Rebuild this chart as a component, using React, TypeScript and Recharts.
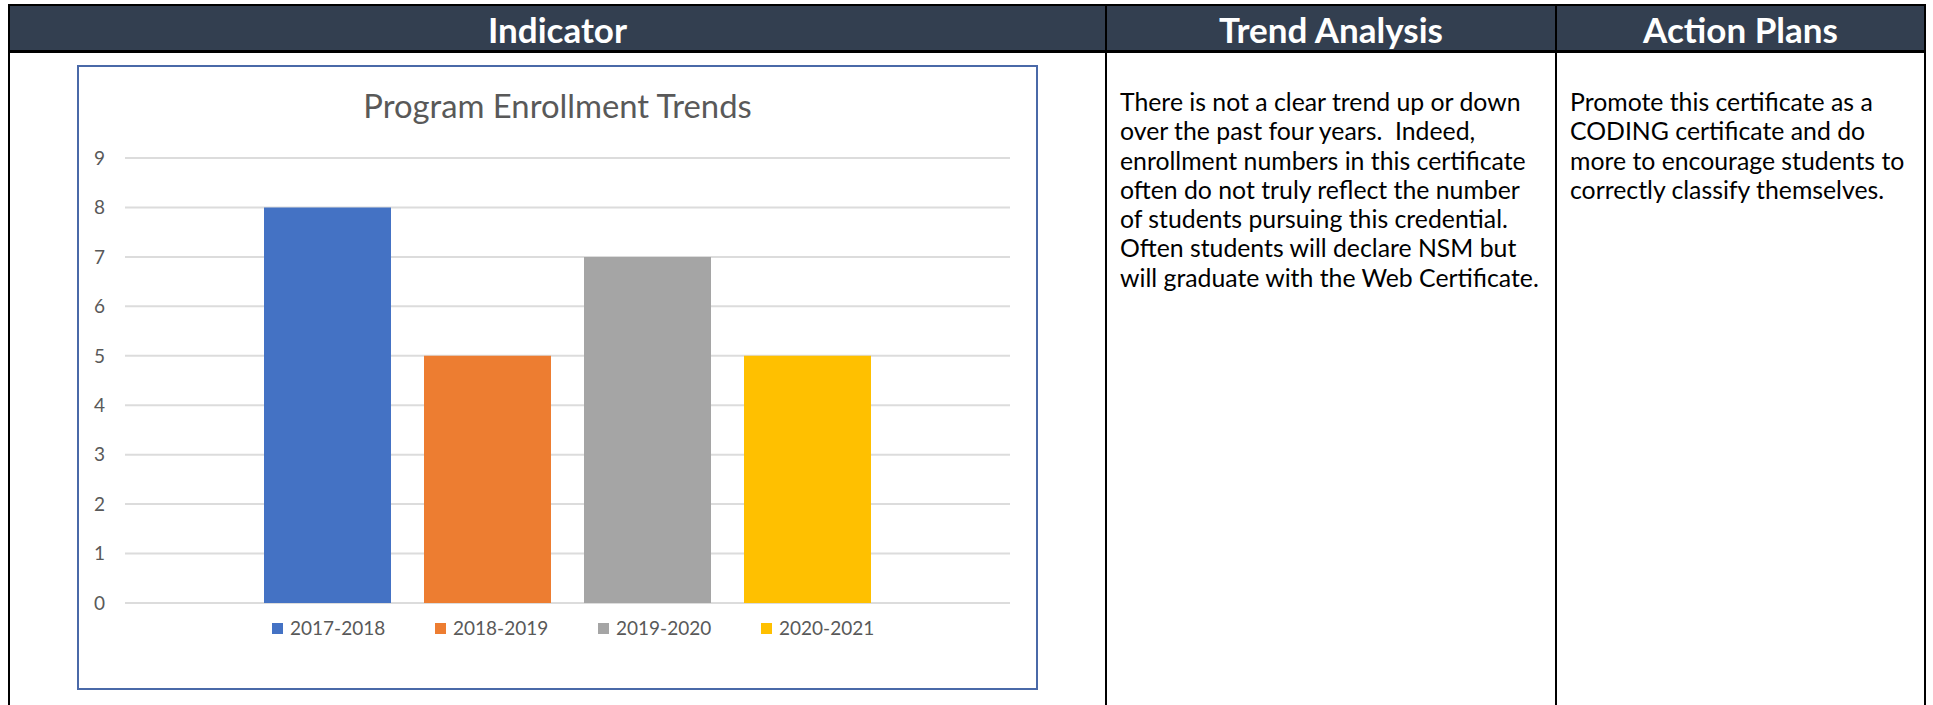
import React from "react";
import { BarChart, Bar, XAxis, YAxis, CartesianGrid, Legend } from "recharts";

const FONT = "Lato, 'Open Sans', sans-serif";

const years = ["2017-2018", "2018-2019", "2019-2020", "2020-2021"];
const enrollment = [8, 5, 7, 5];
const barColors = ["#4472C4", "#ED7D31", "#A5A5A5", "#FFC000"];
const yTicks = [0, 1, 2, 3, 4, 5, 6, 7, 8, 9];

const headers = ["Indicator", "Trend Analysis", "Action Plans"];
const trendLines = [
  "There is not a clear trend up or down",
  "over the past four years.  Indeed,",
  "enrollment numbers in this certificate",
  "often do not truly reflect the number",
  "of students pursuing this credential.",
  "Often students will declare NSM but",
  "will graduate with the Web Certificate.",
];
const actionLines = [
  "Promote this certificate as a",
  "CODING certificate and do",
  "more to encourage students to",
  "correctly classify themselves.",
];

// one category, one bar per school year (Excel-style series)
const chartRow: Record<string, string | number> = { name: "Enrollment" };
years.forEach((y, i) => {
  chartRow[`s${i}`] = enrollment[i];
});
const chartData = [chartRow];

function YearLegend({ payload }: any) {
  return (
    <div
      style={{
        display: "flex",
        fontFamily: FONT,
        fontSize: 19,
        color: "#595959",
        lineHeight: "22px",
      }}
    >
      {(payload || []).map((p: any) => (
        <div key={p.value} style={{ width: 163, display: "flex", alignItems: "center" }}>
          <span
            style={{ display: "inline-block", width: 11, height: 11, background: p.color, marginRight: 7 }}
          />
          {p.value}
        </div>
      ))}
    </div>
  );
}

const line = (left: number, top: number, width: number, height: number) => (
  <div style={{ position: "absolute", left, top, width, height, background: "#000" }} />
);

export default function App() {
  const colBounds = [
    [10, 1105],
    [1107, 1555],
    [1557, 1924],
  ];

  const bodyText = {
    position: "absolute" as const,
    top: 87,
    fontSize: 24.8,
    lineHeight: "29.3px",
    color: "#000",
  };

  return (
    <div
      style={{
        position: "absolute",
        left: 0,
        top: 0,
        width: 1933,
        height: 705,
        overflow: "hidden",
        background: "#fff",
        fontFamily: FONT,
      }}
    >
      {/* header band */}
      <div style={{ position: "absolute", left: 10, top: 6, width: 1914, height: 44, background: "#333F50" }} />
      {headers.map((h, i) => (
        <div
          key={h}
          style={{
            position: "absolute",
            left: colBounds[i][0],
            top: 7,
            width: colBounds[i][1] - colBounds[i][0],
            height: 44,
            display: "flex",
            alignItems: "center",
            justifyContent: "center",
            color: "#fff",
            fontWeight: 700,
            fontSize: 35,
          }}
        >
          {h}
        </div>
      ))}

      {/* table rules */}
      {line(8, 4, 1918, 2)}
      {line(8, 50, 1918, 3)}
      {line(8, 4, 2, 701)}
      {line(1924, 4, 2, 701)}
      {line(1105, 4, 2, 701)}
      {line(1555, 4, 2, 701)}

      {/* text columns */}
      <div style={{ ...bodyText, left: 1120 }}>
        {trendLines.map((t) => (
          <div key={t} style={{ whiteSpace: "pre" }}>
            {t}
          </div>
        ))}
      </div>
      <div style={{ ...bodyText, left: 1570 }}>
        {actionLines.map((t) => (
          <div key={t} style={{ whiteSpace: "pre" }}>
            {t}
          </div>
        ))}
      </div>

      {/* chart frame */}
      <div
        style={{
          position: "absolute",
          left: 77,
          top: 65,
          width: 961,
          height: 625,
          boxSizing: "border-box",
          border: "2px solid #4A69A8",
          background: "#fff",
        }}
      >
        <div
          style={{
            position: "absolute",
            left: 0,
            top: 19,
            width: 957,
            textAlign: "center",
            fontSize: 32.8,
            lineHeight: "40px",
            color: "#595959",
          }}
        >
          Program Enrollment Trends
        </div>
        <BarChart
          width={957}
          height={621}
          data={chartData}
          margin={{ top: 91, right: 26, bottom: 85, left: 0 }}
          barGap={33}
        >
          <CartesianGrid horizontal vertical={false} stroke="#DCDCDC" strokeWidth={2} />
          <XAxis dataKey="name" hide />
          <YAxis
            domain={[0, 9]}
            ticks={yTicks}
            width={46}
            axisLine={false}
            tickLine={false}
            tickSize={0}
            tickMargin={20}
            tick={{ fill: "#595959", fontSize: 19, fontFamily: FONT }}
            interval={0}
          />
          <Legend
            verticalAlign="middle"
            align="center"
            content={<YearLegend />}
            wrapperStyle={{ left: 193, top: 550, width: 700 }}
          />
          {years.map((y, i) => (
            <Bar key={y} dataKey={`s${i}`} name={y} fill={barColors[i]} barSize={127} isAnimationActive={false} />
          ))}
        </BarChart>
      </div>
    </div>
  );
}
